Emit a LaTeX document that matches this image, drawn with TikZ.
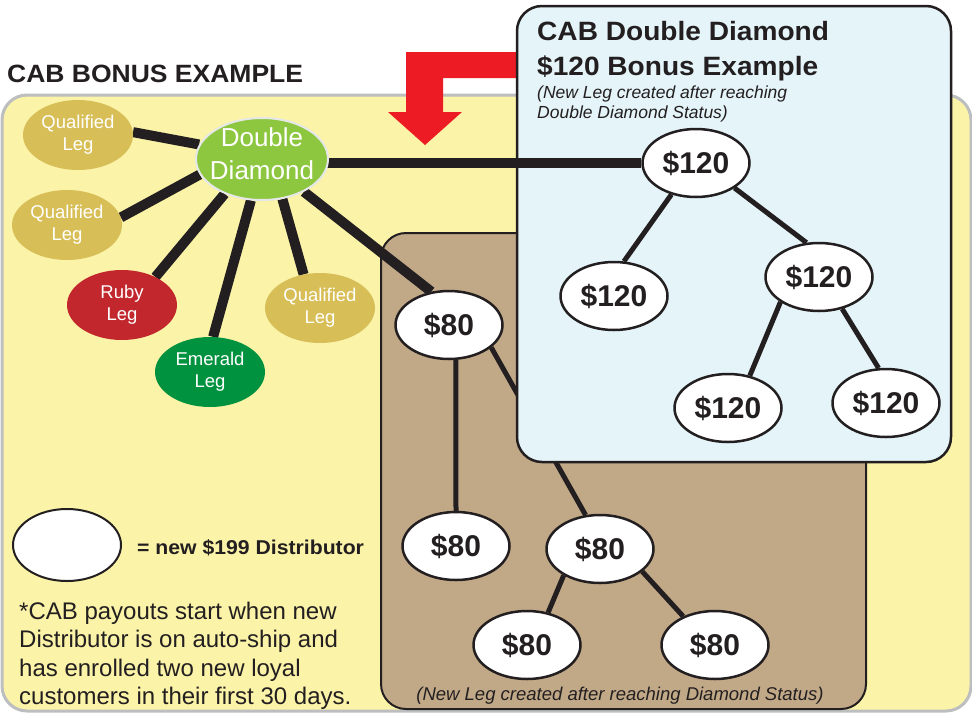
\documentclass[tikz,border=0pt]{standalone}
\usepackage{fontspec}
\setmainfont{Liberation Sans}
\newfontfamily\widefont{Liberation Sans}[FakeStretch=1.06]
\usetikzlibrary{shapes.geometric}

\definecolor{panelyellow}{HTML}{FAF3A8}
\definecolor{panelgray}{HTML}{BCBEC0}
\definecolor{panelbrown}{HTML}{C1A988}
\definecolor{panelblue}{HTML}{E4F4F8}
\definecolor{ink}{HTML}{231F20}
\definecolor{arrowred}{HTML}{ED1C24}
\definecolor{leggold}{HTML}{D8BE57}
\definecolor{ddgreen}{HTML}{8DC63F}
\definecolor{ddrim}{HTML}{E6E7E8}
\definecolor{rubyred}{HTML}{C1272D}
\definecolor{emeraldgreen}{HTML}{00923F}

\pgfdeclarelayer{back}
\pgfdeclarelayer{bluepanel}
\pgfdeclarelayer{links}
\pgfsetlayers{back,bluepanel,links,main}

\tikzset{
  legnode/.style={ellipse, inner sep=0pt, minimum width=110pt, minimum height=70pt},
  leglabel/.style={text=white, align=center, inner sep=0pt,
    font=\fontsize{18.5}{22}\selectfont},
  ddlabel/.style={text=white, align=center, inner sep=0pt,
    font=\fontsize{26}{33}\selectfont},
  paynode/.style={ellipse, draw=ink, line width=2.5pt, fill=white, inner sep=0pt,
    minimum width=107pt, minimum height=68pt, text=ink,
    font=\bfseries\fontsize{30}{36}\selectfont},
  bigline/.style={draw=ink, line width=10pt},
  treeline/.style={draw=ink, line width=5pt},
}

\begin{document}
\begin{tikzpicture}[x=1pt, y=-1pt]
\useasboundingbox (0,0) rectangle (972,713);

% ---------- nodes ----------
\node[legnode, fill=ddgreen, draw=ddrim, line width=2pt, minimum width=132pt, minimum height=82pt,
      label={[ddlabel, yshift=5pt]center:{Double\\Diamond}}] (dd) at (262,159) {};
\node[legnode, fill=leggold, label={[leglabel]center:{Qualified\\Leg}}] (q1) at (78,135) {};
\node[legnode, fill=leggold, label={[leglabel]center:{Qualified\\Leg}}] (q2) at (67,225) {};
\node[legnode, fill=rubyred, label={[leglabel]center:{Ruby\\Leg}}] (ruby) at (122,305) {};
\node[legnode, fill=emeraldgreen, label={[leglabel]center:{Emerald\\Leg}}] (emerald) at (210,372) {};
\node[legnode, fill=leggold, label={[leglabel]center:{Qualified\\Leg}}] (q3) at (320,308) {};

\node[paynode] (e80a) at (449,325) {\$80};
\node[paynode] (e80b) at (456,546) {\$80};
\node[paynode] (e80c) at (600,549) {\$80};
\node[paynode] (e80d) at (527,645) {\$80};
\node[paynode] (e80e) at (715,645) {\$80};

\node[paynode] (t120a) at (696,163) {\$120};
\node[paynode] (t120b) at (614,296) {\$120};
\node[paynode] (t120c) at (819,277) {\$120};
\node[paynode] (t120d) at (728,408) {\$120};
\node[paynode] (t120e) at (886,403) {\$120};

\node[paynode, line width=2pt, minimum width=108pt, minimum height=72pt] (legend) at (67,545) {};

% ---------- texts ----------
\node[anchor=base west, inner sep=0pt, text=ink, font=\widefont\bfseries\fontsize{25}{30}\selectfont]
  (maintitle) at (7,82) {CAB BONUS EXAMPLE};
\node[anchor=base west, inner sep=0pt, text=ink, align=left,
      font=\widefont\bfseries\fontsize{26.5}{35}\selectfont]
  (bluetitle) at (537,75) {CAB Double Diamond\\\$120 Bonus Example};
\node[anchor=base west, inner sep=0pt, text=ink, align=left,
      font=\itshape\fontsize{17.5}{20}\selectfont]
  (bluenote) at (537,118) {(New Leg created after reaching\\Double Diamond Status)};
\node[anchor=base, inner sep=0pt, text=ink, font=\itshape\fontsize{18.5}{22}\selectfont]
  (brownnote) at (620,700) {(New Leg created after reaching Diamond Status)};
\node[anchor=base west, inner sep=0pt, text=ink, font=\widefont\bfseries\fontsize{20}{24}\selectfont]
  (legendtext) at (137,554) {= new \$199 Distributor};
\node[anchor=north west, inner sep=0pt, text=ink, align=left, font=\fontsize{24}{28.5}\selectfont]
  (footnote) at (19,601.5) {*CAB payouts start when new\\Distributor is on auto-ship and\\has enrolled two new loyal\\customers in their first 30 days.};

% ---------- panels, arrow and lower connectors ----------
\begin{pgfonlayer}{back}
  \fill[white] (0,0) rectangle (972,713);
  \draw[fill=panelyellow, draw=panelgray, line width=3pt, rounded corners=25pt]
    (2,95) rectangle (971,711);
  \fill[arrowred] (517,52) -- (406,52) -- (406,112) -- (388,112) -- (425,145)
    -- (462,112) -- (443,112) -- (443,78) -- (517,78) -- cycle;
  \draw[fill=panelbrown, draw=ink, line width=2pt, rounded corners=25pt]
    (381,233) rectangle (866,709);
  % spokes from the Double Diamond
  \path[bigline] (dd.167) -- (q1.3);
  \path[bigline] (dd.194) -- (q2.8);
  \path[bigline] (dd.223) -- (ruby.40);
  \path[bigline] (dd.255) -- (emerald.85);
  \path[bigline] (dd.297) -- (q3.116);
  \path[bigline] (dd.322) -- (e80a.118);
  % $80 leg
  \path[treeline] (e80a.281) -- (e80b.90);
  \path[treeline] (e80a.332) -- (e80c.113);
  \path[treeline] (e80c.216) -- (e80d.57);
  \path[treeline] (e80c.332) -- (e80e.138);
\end{pgfonlayer}

\begin{pgfonlayer}{bluepanel}
  \draw[fill=panelblue, draw=ink, line width=2.5pt, rounded corners=25pt]
    (517,6) rectangle (951,462);
\end{pgfonlayer}

\begin{pgfonlayer}{links}
  \path[bigline] (t120a.west) -- (t120a.west -| dd.center);
  \path[treeline] (t120a.232) -- (t120b.74);
  \path[treeline] (t120a.327) -- (t120c.110);
  \path[treeline] (t120c.213) -- (t120d.56);
  \path[treeline] (t120c.306) -- (t120e.102);
\end{pgfonlayer}
\end{tikzpicture}
\end{document}
